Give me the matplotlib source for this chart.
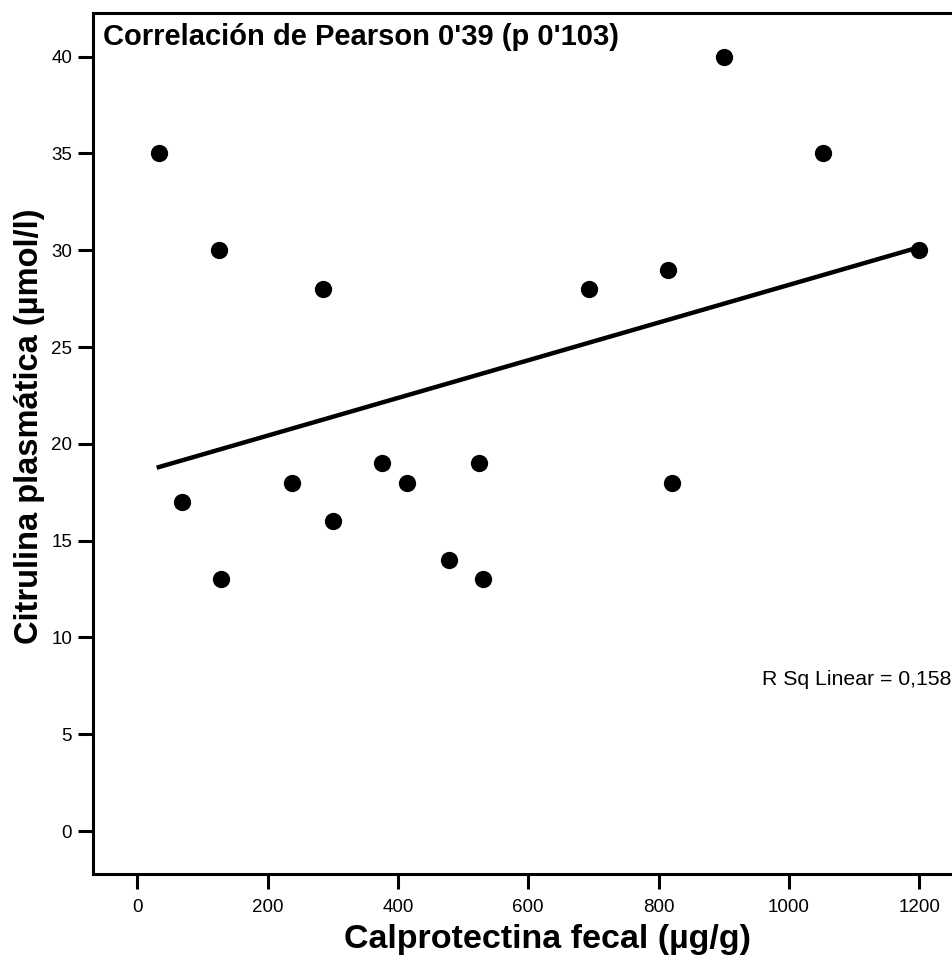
import matplotlib.pyplot as plt
import numpy as np

plt.rcParams['font.family'] = ['Liberation Sans', 'DejaVu Sans']

calpro = np.array([33, 68, 125, 128, 238, 285, 300, 376, 414, 478, 525, 531, 693, 815, 820, 900, 1052, 1200])
citrul = np.array([35, 17, 30, 13, 18, 28, 16, 19, 18, 14, 19, 13, 28, 29, 18, 40, 35, 30])

xticks = [0, 200, 400, 600, 800, 1000, 1200]
yticks = [0, 5, 10, 15, 20, 25, 30, 35, 40]

fig = plt.figure(figsize=(9.53, 9.63), dpi=100)
ax = fig.add_axes([0.0976, 0.0924, 0.9024, 0.894])

ax.scatter(calpro, citrul, s=155, color='black', zorder=3, linewidths=0)

# linear fit
slope, intercept = np.polyfit(calpro, citrul, 1)
xs = np.array([calpro.min(), calpro.max()])
ax.plot(xs, intercept + slope * xs, color='black', linewidth=3.2, zorder=2)

ax.set_xlim(-68, 1252)
ax.set_ylim(-2.22, 42.25)
ax.set_xticks(xticks)
ax.set_yticks(yticks)
ax.spines['right'].set_visible(False)
for s in ['left', 'bottom', 'top']:
    ax.spines[s].set_linewidth(2.2)
ax.tick_params(direction='out', length=11, width=2.2, labelsize=13.5)
ax.tick_params(axis='x', pad=7)
ax.tick_params(axis='y', pad=4)

ax.set_xlabel("Calprotectina fecal (µg/g)", fontsize=24.5, fontweight='bold')
ax.set_ylabel("Citrulina plasmática (µmol/l)", fontsize=23.5, fontweight='bold')
ax.xaxis.set_label_coords(0.528, -0.058)
ax.yaxis.set_label_coords(-0.056, 0.52)

ax.text(0.012, 0.988, "Correlación de Pearson 0'39 (p 0'103)", transform=ax.transAxes,
        fontsize=21, fontweight='bold', va='top', ha='left')
ax.text(0.998, 0.2255, "R Sq Linear = 0,158", transform=ax.transAxes,
        fontsize=15.3, va='center', ha='right')

fig.savefig("out.png", dpi=100)
